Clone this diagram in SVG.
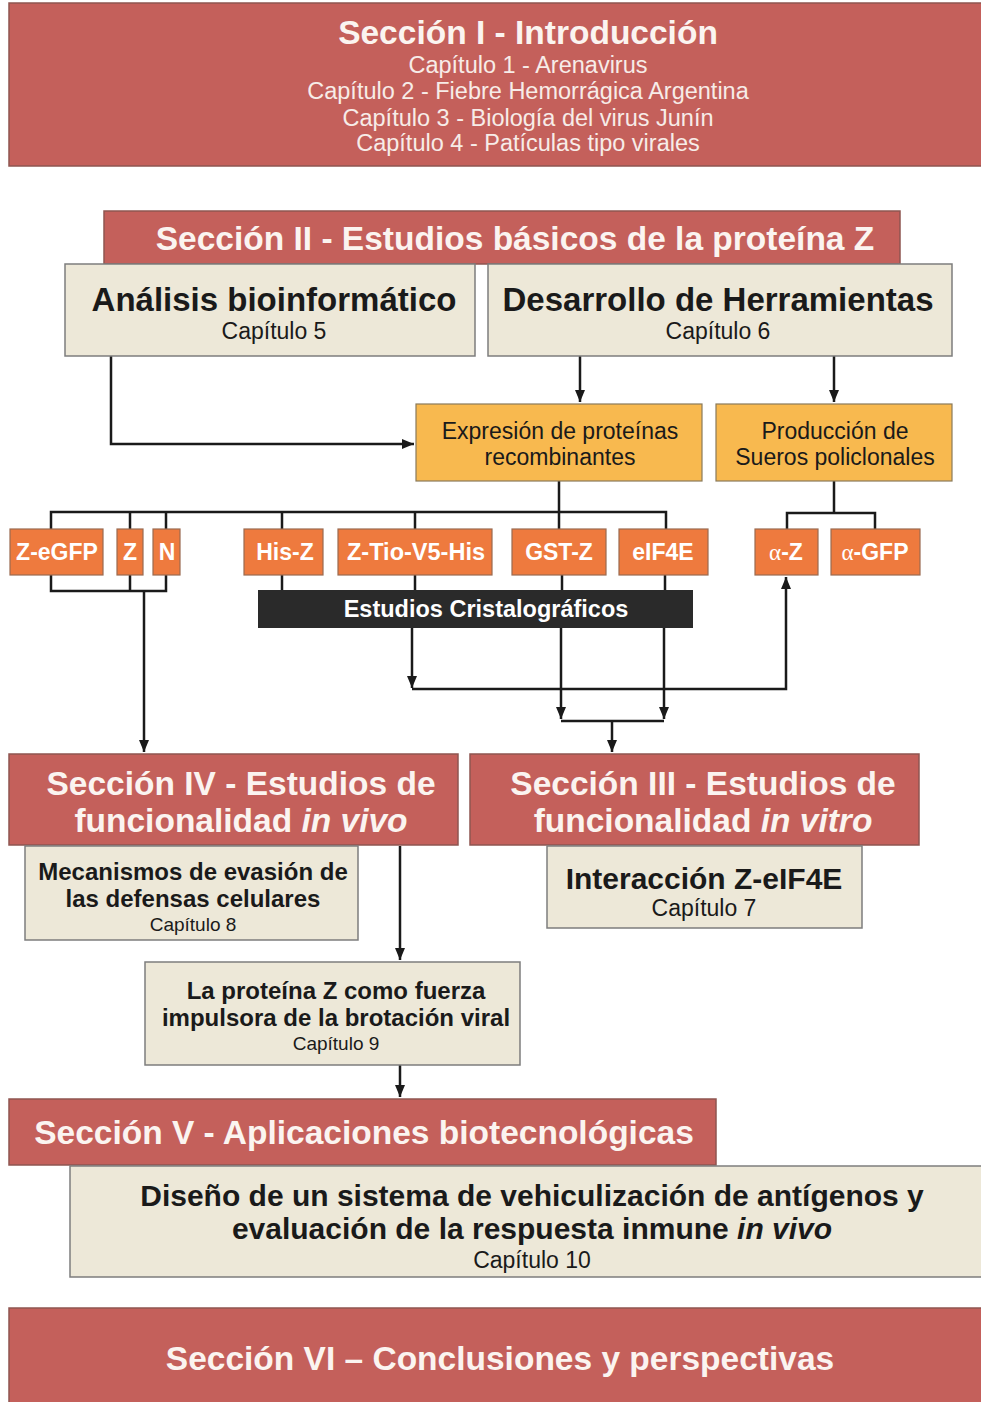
<svg xmlns="http://www.w3.org/2000/svg" width="981" height="1402" viewBox="0 0 981 1402">
<defs>
<style>
.sec{fill:#C4605B;stroke:#8e5550;stroke-width:1.5}
.beige{fill:#EDE8D8;stroke:#7d7d7d;stroke-width:1.5}
.yel{fill:#F8B94F;stroke:#8a7a5a;stroke-width:1.2}
.org{fill:#EE7A3E;stroke:#9a6a50;stroke-width:1.2}
.bar{fill:#2a2a2a}
text{font-family:"Liberation Sans",Arial,sans-serif;text-anchor:middle}
.st{font-size:33.5px;font-weight:bold;fill:#fbf4f0}
.sc{font-size:23.5px;fill:#f7ece8}
.bt{font-size:33px;font-weight:bold;fill:#1a1a1a}
.bc{font-size:23px;fill:#1a1a1a}
.b24{font-size:24px;font-weight:bold;fill:#1a1a1a}
.b30{font-size:30px;font-weight:bold;fill:#1a1a1a}
.c19{font-size:19px;fill:#1a1a1a}
.ot{font-size:23px;font-weight:bold;fill:#ffffff}
.ser{font-family:"Liberation Serif","Times New Roman",serif;font-weight:normal}
.line{fill:none;stroke:#1a1a1a;stroke-width:2.5}
</style>
<marker id="ah" viewBox="0 0 12 10" markerWidth="12" markerHeight="10" refX="12" refY="5" orient="auto" markerUnits="userSpaceOnUse">
<path d="M0,0 L12,5 L0,10 z" fill="#1a1a1a"/>
</marker>
</defs>
<rect width="981" height="1402" fill="#ffffff"/>

<g id="connectors">
<path class="line" d="M111,356 V444 H414" marker-end="url(#ah)"/>
<path class="line" d="M580,356 V402" marker-end="url(#ah)"/>
<path class="line" d="M834,356 V402" marker-end="url(#ah)" stroke-width="1.8"/>
<path class="line" d="M559,481 V529 M51,529 V512 H666 V529 M130,512 V529 M166,512 V529 M282,512 V529 M415,512 V529"/>
<path class="line" d="M834,481 V513 M787,529 V513 H875 V529"/>
<path class="line" d="M51,575 V591 H166 V575 M130,575 V591"/>
<path class="line" d="M144,591 V752" marker-end="url(#ah)"/>
<path class="line" d="M282,575 V590 M415,575 V590 M562,575 V590 M665,575 V590"/>
<path class="line" d="M412,628 V688" marker-end="url(#ah)"/>
<path class="line" d="M412,689 H786 V577" marker-end="url(#ah)"/>
<path class="line" d="M561,628 V719" marker-end="url(#ah)"/>
<path class="line" d="M664,628 V719" marker-end="url(#ah)"/>
<path class="line" d="M561,721 H664"/>
<path class="line" d="M612,721 V752" marker-end="url(#ah)"/>
<path class="line" d="M400,846 V960" marker-end="url(#ah)"/>
<path class="line" d="M400,1065 V1097" marker-end="url(#ah)"/>
</g>

<g id="sec1">
<rect class="sec" x="9" y="3" width="973" height="163"/>
<text class="st" x="528" y="44">Sección I - Introducción</text>
<text class="sc" x="528" y="73">Capítulo 1 - Arenavirus</text>
<text class="sc" x="528" y="99">Capítulo 2 - Fiebre Hemorrágica Argentina</text>
<text class="sc" x="528" y="126">Capítulo 3 - Biología del virus Junín</text>
<text class="sc" x="528" y="151">Capítulo 4 - Patículas tipo virales</text>
</g>

<g id="sec2">
<rect class="sec" x="104" y="211" width="796" height="53"/>
<text class="st" x="515" y="250">Sección II - Estudios básicos de la proteína Z</text>
</g>

<g id="cap5">
<rect class="beige" x="65" y="264" width="410" height="92"/>
<text class="bt" x="274" y="311">Análisis bioinformático</text>
<text class="bc" x="274" y="339">Capítulo 5</text>
</g>

<g id="cap6">
<rect class="beige" x="488" y="264" width="464" height="92"/>
<text class="bt" x="718" y="311">Desarrollo de Herramientas</text>
<text class="bc" x="718" y="339">Capítulo 6</text>
</g>

<g id="expresion">
<rect class="yel" x="416" y="404" width="286" height="77"/>
<text class="bc" x="560" y="439">Expresión de proteínas</text>
<text class="bc" x="560" y="465">recombinantes</text>
</g>

<g id="produccion">
<rect class="yel" x="716" y="404" width="236" height="77"/>
<text class="bc" x="835" y="439">Producción de</text>
<text class="bc" x="835" y="465">Sueros policlonales</text>
</g>

<g id="zegfp"><rect class="org" x="10" y="529" width="93" height="46"/><text class="ot" x="57" y="560">Z-eGFP</text></g>
<g id="z"><rect class="org" x="117" y="529" width="26" height="46"/><text class="ot" x="130" y="560">Z</text></g>
<g id="n"><rect class="org" x="153" y="529" width="27" height="46"/><text class="ot" x="167" y="560">N</text></g>
<g id="hisz"><rect class="org" x="244" y="529" width="79" height="46"/><text class="ot" x="285" y="560">His-Z</text></g>
<g id="ztio"><rect class="org" x="338" y="529" width="154" height="46"/><text class="ot" x="416" y="560" textLength="138" lengthAdjust="spacingAndGlyphs">Z-Tio-V5-His</text></g>
<g id="gstz"><rect class="org" x="512" y="529" width="94" height="46"/><text class="ot" x="559" y="560">GST-Z</text></g>
<g id="eif4e"><rect class="org" x="619" y="529" width="89" height="46" stroke="#222" stroke-width="2"/><text class="ot" x="663" y="560">eIF4E</text></g>
<g id="az"><rect class="org" x="755" y="529" width="63" height="46"/><text class="ot" x="786" y="560"><tspan class="ser">α</tspan>-Z</text></g>
<g id="agfp"><rect class="org" x="831" y="529" width="89" height="46"/><text class="ot" x="875" y="560"><tspan class="ser">α</tspan>-GFP</text></g>

<g id="cristal">
<rect class="bar" x="258" y="590" width="435" height="38"/>
<text x="486" y="617" font-size="23.5" font-weight="bold" fill="#ffffff">Estudios Cristalográficos</text>
</g>

<g id="sec4">
<rect class="sec" x="9" y="754" width="449" height="91"/>
<text class="st" x="241" y="795">Sección IV - Estudios de</text>
<text class="st" x="241" y="832">funcionalidad <tspan font-style="italic">in vivo</tspan></text>
</g>

<g id="sec3">
<rect class="sec" x="470" y="754" width="449" height="91"/>
<text class="st" x="703" y="795">Sección III - Estudios de</text>
<text class="st" x="703" y="832">funcionalidad <tspan font-style="italic">in vitro</tspan></text>
</g>

<g id="cap8">
<rect class="beige" x="25" y="846" width="333" height="94"/>
<text class="b24" x="193" y="880">Mecanismos de evasión de</text>
<text class="b24" x="193" y="907">las defensas celulares</text>
<text class="c19" x="193" y="931">Capítulo 8</text>
</g>

<g id="cap7">
<rect class="beige" x="547" y="846" width="315" height="82"/>
<text class="b30" x="704" y="889">Interacción Z-eIF4E</text>
<text class="bc" x="704" y="916">Capítulo 7</text>
</g>

<g id="cap9">
<rect class="beige" x="145" y="962" width="375" height="103"/>
<text class="b24" x="336" y="999">La proteína Z como fuerza</text>
<text class="b24" x="336" y="1026">impulsora de la brotación viral</text>
<text class="c19" x="336" y="1050">Capítulo 9</text>
</g>

<g id="sec5">
<rect class="sec" x="9" y="1099" width="707" height="66"/>
<text class="st" x="364" y="1144">Sección V - Aplicaciones biotecnológicas</text>
</g>

<g id="cap10">
<rect class="beige" x="70" y="1166" width="912" height="111"/>
<text class="b30" x="532" y="1206">Diseño de un sistema de vehiculización de antígenos y</text>
<text class="b30" x="532" y="1239">evaluación de la respuesta inmune <tspan font-style="italic">in vivo</tspan></text>
<text class="bc" x="532" y="1268">Capítulo 10</text>
</g>

<g id="sec6">
<rect class="sec" x="9" y="1308" width="973" height="95"/>
<text class="st" x="500" y="1370">Sección VI – Conclusiones y perspectivas</text>
</g>
</svg>
